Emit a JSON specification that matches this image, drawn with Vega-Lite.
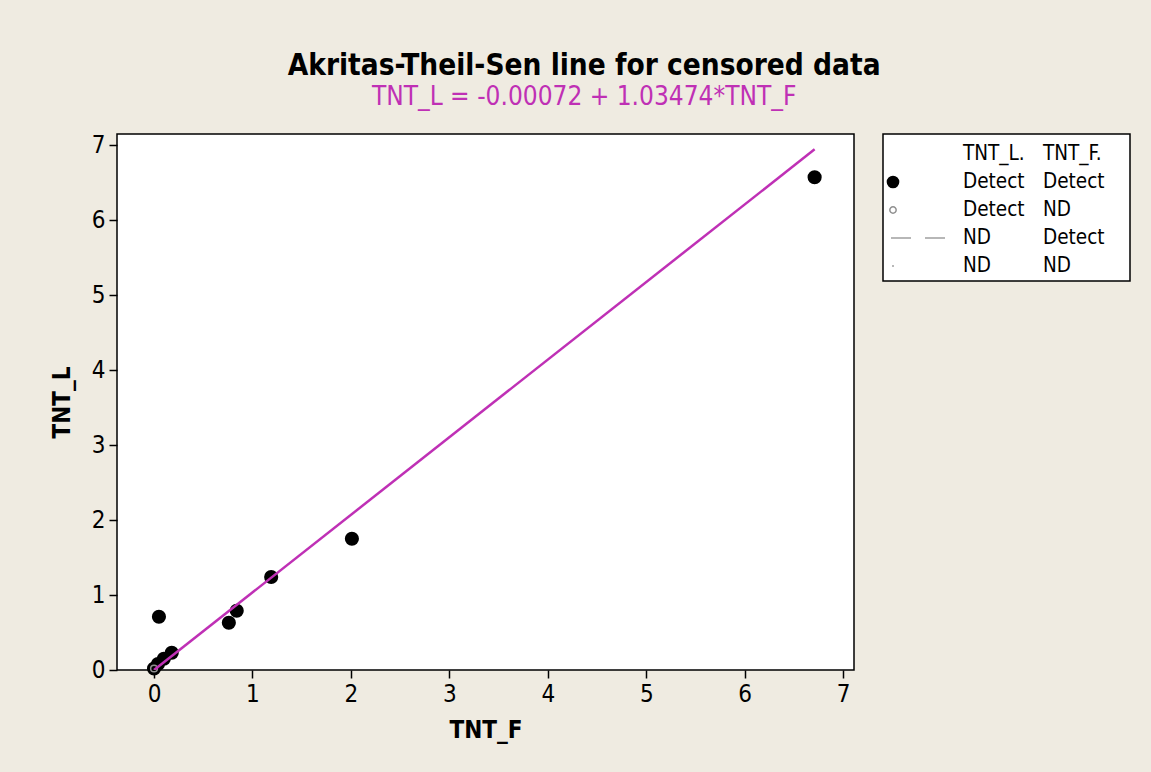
{
  "$schema": "https://vega.github.io/schema/vega-lite/v6.json",
  "background": "#EFEBE1",
  "padding": {"left": 49, "top": 50, "right": 20, "bottom": 40},
  "title": {
    "text": "Akritas-Theil-Sen line for censored data",
    "subtitle": "TNT_L = -0.00072 + 1.03474*TNT_F",
    "anchor": "middle",
    "dx": -6,
    "font": "DejaVu Sans Condensed",
    "fontSize": 29.5,
    "fontWeight": "bold",
    "color": "black",
    "subtitleFont": "DejaVu Sans Condensed",
    "subtitleFontSize": 26,
    "subtitleColor": "#BF30B5",
    "subtitlePadding": 3,
    "offset": 21
  },
  "datasets": {
    "main": [
      {"kind": "dd", "TNT_F": 6.71, "TNT_L": 6.57},
      {"kind": "dd", "TNT_F": 2.01, "TNT_L": 1.75},
      {"kind": "dd", "TNT_F": 1.19, "TNT_L": 1.24},
      {"kind": "dd", "TNT_F": 0.84, "TNT_L": 0.79},
      {"kind": "dd", "TNT_F": 0.76, "TNT_L": 0.63},
      {"kind": "dd", "TNT_F": 0.05, "TNT_L": 0.71},
      {"kind": "dd", "TNT_F": 0.18, "TNT_L": 0.23},
      {"kind": "dd", "TNT_F": 0.10, "TNT_L": 0.15},
      {"kind": "dd", "TNT_F": 0.04, "TNT_L": 0.08},
      {"kind": "dd", "TNT_F": 0.00, "TNT_L": 0.02},
      {"kind": "dn", "TNT_F": 0.00, "TNT_L": 0.02},
      {"kind": "fit", "TNT_F": 0.0, "TNT_L": -0.00072},
      {"kind": "fit", "TNT_F": 6.71, "TNT_L": 6.9425}
    ],
    "legend": [
      {"kind": "text", "row": 0, "col": 1, "label": "TNT_L."},
      {"kind": "text", "row": 0, "col": 2, "label": "TNT_F."},
      {"kind": "text", "row": 1, "col": 1, "label": "Detect"},
      {"kind": "text", "row": 1, "col": 2, "label": "Detect"},
      {"kind": "text", "row": 2, "col": 1, "label": "Detect"},
      {"kind": "text", "row": 2, "col": 2, "label": "ND"},
      {"kind": "text", "row": 3, "col": 1, "label": "ND"},
      {"kind": "text", "row": 3, "col": 2, "label": "Detect"},
      {"kind": "text", "row": 4, "col": 1, "label": "ND"},
      {"kind": "text", "row": 4, "col": 2, "label": "ND"},
      {"kind": "filled", "row": 1, "col": 0.125},
      {"kind": "open", "row": 2, "col": 0.125},
      {"kind": "dash", "row": 3, "col": 0.1},
      {"kind": "dash", "row": 3, "col": 0.79},
      {"kind": "dot", "row": 4, "col": 0.125}
    ]
  },
  "hconcat": [
    {
      "width": 737,
      "height": 536,
      "data": {"name": "main"},
      "view": {"fill": "white", "stroke": "black", "strokeWidth": 1.5},
      "encoding": {
        "x": {
          "field": "TNT_F", "type": "quantitative",
          "scale": {"domain": [-0.376, 7.11], "nice": false, "zero": false},
          "axis": {"values": [0, 1, 2, 3, 4, 5, 6, 7], "title": "TNT_F"}
        },
        "y": {
          "field": "TNT_L", "type": "quantitative",
          "scale": {"domain": [0, 7.147], "nice": false},
          "axis": {"values": [0, 1, 2, 3, 4, 5, 6, 7], "title": "TNT_L"}
        }
      },
      "layer": [
        {
          "transform": [{"filter": "datum.kind === 'dd'"}],
          "mark": {"type": "point", "filled": true, "color": "black", "size": 200, "opacity": 1}
        },
        {
          "transform": [{"filter": "datum.kind === 'dn'"}],
          "mark": {"type": "point", "filled": false, "color": "#909090", "size": 45, "strokeWidth": 1.5, "opacity": 1}
        },
        {
          "transform": [{"filter": "datum.kind === 'fit'"}],
          "mark": {"type": "line", "color": "#BF30B5", "strokeWidth": 2.5, "clip": true}
        }
      ]
    },
    {
      "width": 247,
      "height": 147,
      "data": {"name": "legend"},
      "view": {"fill": "white", "stroke": "black", "strokeWidth": 1.5},
      "encoding": {
        "x": {
          "field": "col", "type": "quantitative",
          "scale": {"domain": [0, 3.0875], "nice": false, "zero": false},
          "axis": null
        },
        "y": {
          "field": "row", "type": "quantitative",
          "scale": {"domain": [-0.714, 4.536], "nice": false, "zero": false, "reverse": true},
          "axis": null
        }
      },
      "layer": [
        {
          "transform": [{"filter": "datum.kind === 'text'"}],
          "mark": {"type": "text", "align": "left", "baseline": "middle", "font": "DejaVu Sans Condensed", "fontSize": 20.5, "color": "black"},
          "encoding": {"text": {"field": "label"}}
        },
        {
          "transform": [{"filter": "datum.kind === 'filled'"}],
          "mark": {"type": "point", "filled": true, "color": "black", "size": 160, "opacity": 1}
        },
        {
          "transform": [{"filter": "datum.kind === 'open'"}],
          "mark": {"type": "point", "filled": false, "color": "#909090", "size": 40, "strokeWidth": 1.5, "opacity": 1}
        },
        {
          "transform": [{"filter": "datum.kind === 'dash'"}],
          "mark": {"type": "line", "color": "#A0A0A0", "strokeWidth": 1.5, "strokeDash": [20, 14]}
        },
        {
          "transform": [{"filter": "datum.kind === 'dot'"}],
          "mark": {"type": "point", "filled": true, "color": "#A0A0A0", "size": 4, "opacity": 1}
        }
      ]
    }
  ],
  "spacing": 27,
  "config": {
    "font": "DejaVu Sans Condensed",
    "axis": {
      "grid": false,
      "domain": false,
      "tickColor": "black",
      "tickWidth": 1.5,
      "tickSize": 8,
      "labelFont": "DejaVu Sans Condensed",
      "labelFontSize": 24,
      "labelColor": "black",
      "labelPadding": 4,
      "titleFont": "DejaVu Sans Condensed",
      "titleFontSize": 24,
      "titleFontWeight": "bold",
      "titleColor": "black"
    },
    "axisX": {"titlePadding": 12},
    "axisY": {"titlePadding": 17}
  }
}
